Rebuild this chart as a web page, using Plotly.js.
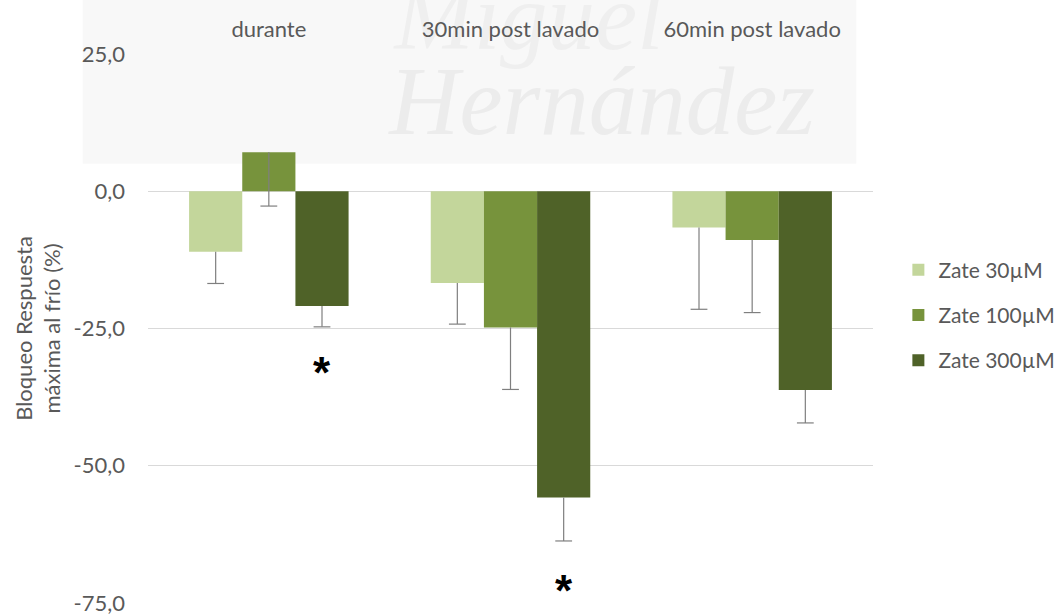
<!DOCTYPE html>
<html>
<head>
<meta charset="utf-8">
<script src="https://cdn.plot.ly/plotly-3.0.1.min.js"></script>
<style>html,body{margin:0;padding:0;background:#fff;}#chart{width:1056px;height:614px;}</style>
</head>
<body>
<div id="chart"></div>
<script>
const categories = ["durante", "30min post lavado", "60min post lavado"];
const seriesNames = ["Zate 30µM", "Zate 100µM", "Zate 300µM"];
const zate30 = [-11.0, -16.7, -6.6];
const zate100 = [7.1, -24.8, -8.9];
const zate300 = [-20.9, -55.8, -36.2];
const err30 = [5.8, 7.5, 14.9];
const err100 = [9.8, 11.3, 13.2];
const err300 = [3.8, 7.9, 6.0];
const colors = ["#c3d69b", "#77933c", "#4f6228"];
const yTicks = [25, 0, -25, -50, -75];
const yTickLabels = ["25,0", "0,0", "-25,0", "-50,0", "-75,0"];
const sigCategory = [0, 1];
const sigSeries = [2, 2];
const sigY = [-32.1, -71.8];
const watermarkWords = ["Miguel", "Hernández"];

const FONT = "Lato, 'Open Sans', sans-serif";
const TXT = "#595959";
const vals = [zate30, zate100, zate300];
const errs = [err30, err100, err300];
const catIdx = categories.map((c, i) => i);

const BARGAP = 0.34;
const barW = (1 - BARGAP) / vals.length;
const offsetOf = k => (k - (vals.length - 1) / 2) * barW;

const traces = [];

// faint background watermark (drawn beneath the bars and the axis labels)
traces.push({
  type: "scatter", mode: "text", showlegend: false, hoverinfo: "skip", cliponaxis: false,
  x: [0.52], y: [21.6], text: ["<i>" + watermarkWords[0] + "</i>"], textposition: "top right",
  textfont: {family: "Liberation Serif, serif", size: 95, color: "#efefef"}
});
traces.push({
  type: "scatter", mode: "text", showlegend: false, hoverinfo: "skip", cliponaxis: false,
  x: [2.26], y: [14.9], text: ["<i>" + watermarkWords[1] + "</i>"], textposition: "middle left",
  textfont: {family: "Liberation Serif, serif", size: 97, color: "#ececec"}
});

vals.forEach((v, k) => {
  traces.push({
    type: "bar",
    name: seriesNames[k],
    legendgroup: "g" + k,
    x: catIdx,
    y: v,
    marker: {color: colors[k], line: {width: 0}},
    error_y: {type: "data", symmetric: false, array: v.map(() => 0), arrayminus: errs[k],
              color: "#7f7f7f", thickness: 1.2, width: 0, visible: true},
    hoverinfo: "y+name"
  });
});
// bottom caps of the (minus-only) error bars
vals.forEach((v, k) => {
  traces.push({
    type: "scatter",
    mode: "markers",
    showlegend: false,
    legendgroup: "g" + k,
    x: catIdx.map(i => i + offsetOf(k)),
    y: v.map((val, i) => val - errs[k][i]),
    marker: {symbol: "line-ew", size: 12, color: "#7f7f7f", line: {width: 1.2, color: "#7f7f7f"}},
    hoverinfo: "skip"
  });
});

const annotations = sigCategory.map((c, j) => ({
  x: c + offsetOf(sigSeries[j]), y: sigY[j], xref: "x", yref: "y",
  text: "<b>*</b>", showarrow: false, yshift: -5,
  font: {family: "Liberation Sans, Arial, sans-serif", size: 44, color: "#000"}
}));

const layout = {
  width: 1056, height: 614,
  margin: {l: 148, r: 183, t: 54, b: 11, autoexpand: false},
  paper_bgcolor: "#ffffff",
  plot_bgcolor: "rgba(0,0,0,0)",
  font: {family: FONT, size: 22, color: TXT},
  barmode: "group",
  bargap: BARGAP,
  bargroupgap: 0,
  showlegend: true,
  legend: {x: 1.035, y: 0.5246, xanchor: "left", yanchor: "middle",
           font: {family: FONT, size: 21, color: TXT},
           itemwidth: 30, tracegroupgap: 15, bgcolor: "rgba(0,0,0,0)"},
  xaxis: {side: "top", range: [-0.5, 2.5], tickvals: catIdx, ticktext: categories,
          showline: false, showgrid: false, zeroline: false, ticks: "", ticklabelstandoff: 12,
          tickfont: {family: FONT, size: 22, color: TXT}, fixedrange: true},
  yaxis: {range: [-75, 25], tickvals: yTicks, ticktext: yTickLabels, ticklabeloverflow: "allow",
          showgrid: true, gridcolor: "#d9d9d9", gridwidth: 1.3,
          zeroline: true, zerolinecolor: "#d9d9d9", zerolinewidth: 1.3,
          showline: false, ticks: "", ticklabelstandoff: 22,
          tickfont: {family: FONT, size: 22, color: TXT},
          title: {text: "Bloqueo Respuesta<br>máxima al frío (%)", standoff: 6,
                  font: {family: FONT, size: 22, color: TXT}}},
  shapes: [{type: "rect", xref: "paper", yref: "paper", x0: -0.09, x1: 0.977, y0: 0.8, y1: 1.12,
            fillcolor: "#f8f8f8", line: {width: 0}, layer: "below"}],
  annotations: annotations
};

Plotly.newPlot("chart", traces, layout, {displayModeBar: false, staticPlot: true});
</script>
</body>
</html>
